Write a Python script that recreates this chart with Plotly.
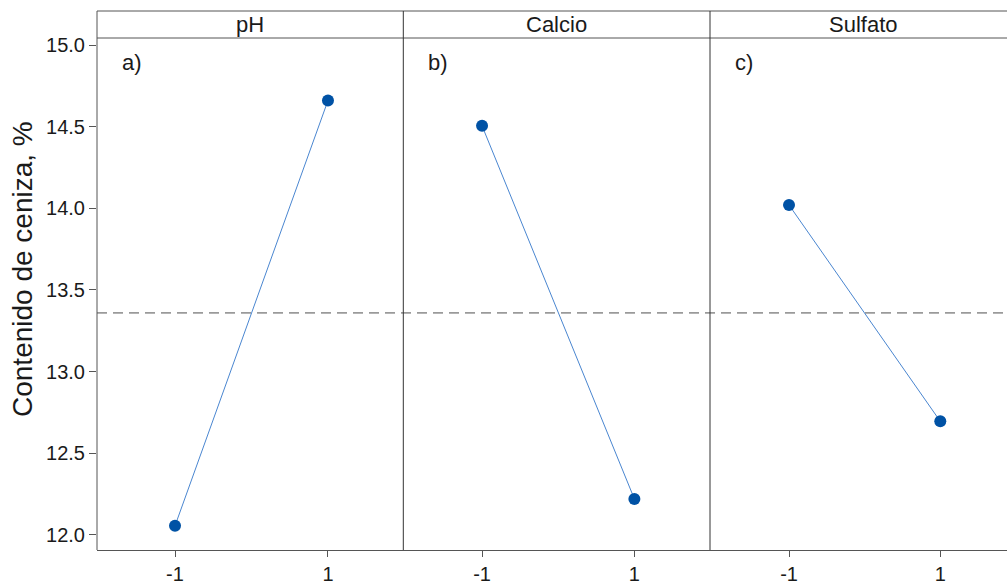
import plotly.graph_objects as go

# Data
factors = ["pH", "Calcio", "Sulfato"]
panel_labels = ["a)", "b)", "c)"]
levels = [-1, 1]
ph_means = [12.055, 14.66]
calcio_means = [14.505, 12.22]
sulfato_means = [14.02, 12.695]
series = [ph_means, calcio_means, sulfato_means]
y_ticks = [12.0, 12.5, 13.0, 13.5, 14.0, 14.5, 15.0]
y_tick_labels = ["12.0", "12.5", "13.0", "13.5", "14.0", "14.5", "15.0"]
x_tick_labels = ["-1", "1"]
y_title = "Contenido de ceniza, %"

grand_mean = sum(sum(s) for s in series) / (2 * len(series))

W, H = 1007, 581
ml, mr, mt, mb = 97, 0, 38, 31
plot_w = W - ml - mr
plot_h = H - mt - mb
header_top = 1 + 27 / plot_h

# panel edges in px (relative to plot area)
edges_px = [0, 306.3, 613.0, 910]
domains = [[edges_px[i] / plot_w, edges_px[i + 1] / plot_w] for i in range(3)]
x_ranges = [[-2.02, 1.985], [-2.034, 1.993], [-2.045, 1.882]]

FONT = "Liberation Sans, Arial, sans-serif"
TXT = "#1a1a1a"
fig = go.Figure()

for i, vals in enumerate(series):
    xa = "x" if i == 0 else f"x{i+1}"
    ya = "y" if i == 0 else f"y{i+1}"
    fig.add_trace(go.Scatter(
        x=levels, y=vals, xaxis=xa, yaxis=ya, mode="lines+markers",
        line=dict(color="#4a86d0", width=1),
        marker=dict(color="#0052a5", size=12),
        showlegend=False, cliponaxis=False,
    ))

layout = dict(
    width=W, height=H,
    margin=dict(l=ml, r=mr, t=mt, b=mb, autoexpand=False),
    paper_bgcolor="white", plot_bgcolor="white",
    font=dict(family=FONT, color=TXT, size=20),
    showlegend=False,
)
for i in range(3):
    xk = "xaxis" if i == 0 else f"xaxis{i+1}"
    yk = "yaxis" if i == 0 else f"yaxis{i+1}"
    layout[xk] = dict(
        domain=domains[i], range=x_ranges[i], anchor="y" if i == 0 else f"y{i+1}",
        tickvals=levels, ticktext=x_tick_labels, ticks="outside", ticklen=6,
        tickcolor="#555555", tickwidth=1, automargin=False,
        showline=True, linecolor="#555555", linewidth=1,
        showgrid=False, zeroline=False, fixedrange=True,
        tickfont=dict(size=20, family=FONT, color=TXT),
    )
    layout[yk] = dict(
        domain=[0, 1], range=[11.907, 15.043], automargin=False,
        anchor="x" if i == 0 else f"x{i+1}",
        showgrid=False, zeroline=False, fixedrange=True,
    )
    if i == 0:
        layout[yk].update(
            tickvals=y_ticks, ticktext=y_tick_labels, ticks="outside", ticklen=7,
            tickcolor="#555555", tickwidth=1, showline=False,
            tickfont=dict(size=20, family=FONT, color=TXT),
        )
    else:
        layout[yk].update(showticklabels=False, ticks="", matches="y")

fig.update_layout(**layout)

shapes = []
# mean reference line
shapes.append(dict(type="line", xref="paper", yref="y", x0=0, x1=1, y0=grand_mean, y1=grand_mean,
                   line=dict(color="#9a9a9a", width=1.6, dash="10px,6px"), layer="below"))
# left axis line (extends into header)
shapes.append(dict(type="line", xref="paper", yref="paper", x0=0, x1=0, y0=0, y1=header_top,
                   line=dict(color="#555555", width=1)))
# header top and bottom lines
shapes.append(dict(type="line", xref="paper", yref="paper", x0=0, x1=1, y0=header_top, y1=header_top,
                   line=dict(color="#555555", width=1)))
shapes.append(dict(type="line", xref="paper", yref="paper", x0=0, x1=1, y0=1, y1=1,
                   line=dict(color="#555555", width=1)))
# panel dividers
for i in (1, 2):
    xd = domains[i][0]
    shapes.append(dict(type="line", xref="paper", yref="paper", x0=xd, x1=xd, y0=0, y1=header_top,
                       line=dict(color="#333333", width=1)))
fig.update_layout(shapes=shapes)

annotations = []
for i, name in enumerate(factors):
    cx = domains[i][0] + 153.2 / plot_w
    annotations.append(dict(text=name, xref="paper", yref="paper", x=cx, y=(1 + header_top) / 2,
                            xanchor="center", yanchor="middle", showarrow=False,
                            font=dict(size=22, family=FONT, color=TXT)))
    annotations.append(dict(text=panel_labels[i], xref="paper", yref="paper",
                            x=domains[i][0] + 23 / plot_w, y=1 - 24 / plot_h,
                            xanchor="left", yanchor="middle", showarrow=False,
                            font=dict(size=22, family=FONT, color=TXT)))
annotations.append(dict(text=y_title, xref="paper", yref="paper",
                        x=(22 - ml) / plot_w, y=((H - mb) - 269) / plot_h,
                        xanchor="center", yanchor="middle", textangle=-90, showarrow=False,
                        font=dict(size=28, family=FONT, color=TXT)))
fig.update_layout(annotations=annotations)

fig.write_html(
    "out.html",
    config={"displayModeBar": False},
    post_script="document.body.style.margin='0';document.body.style.overflow='hidden';",
)
